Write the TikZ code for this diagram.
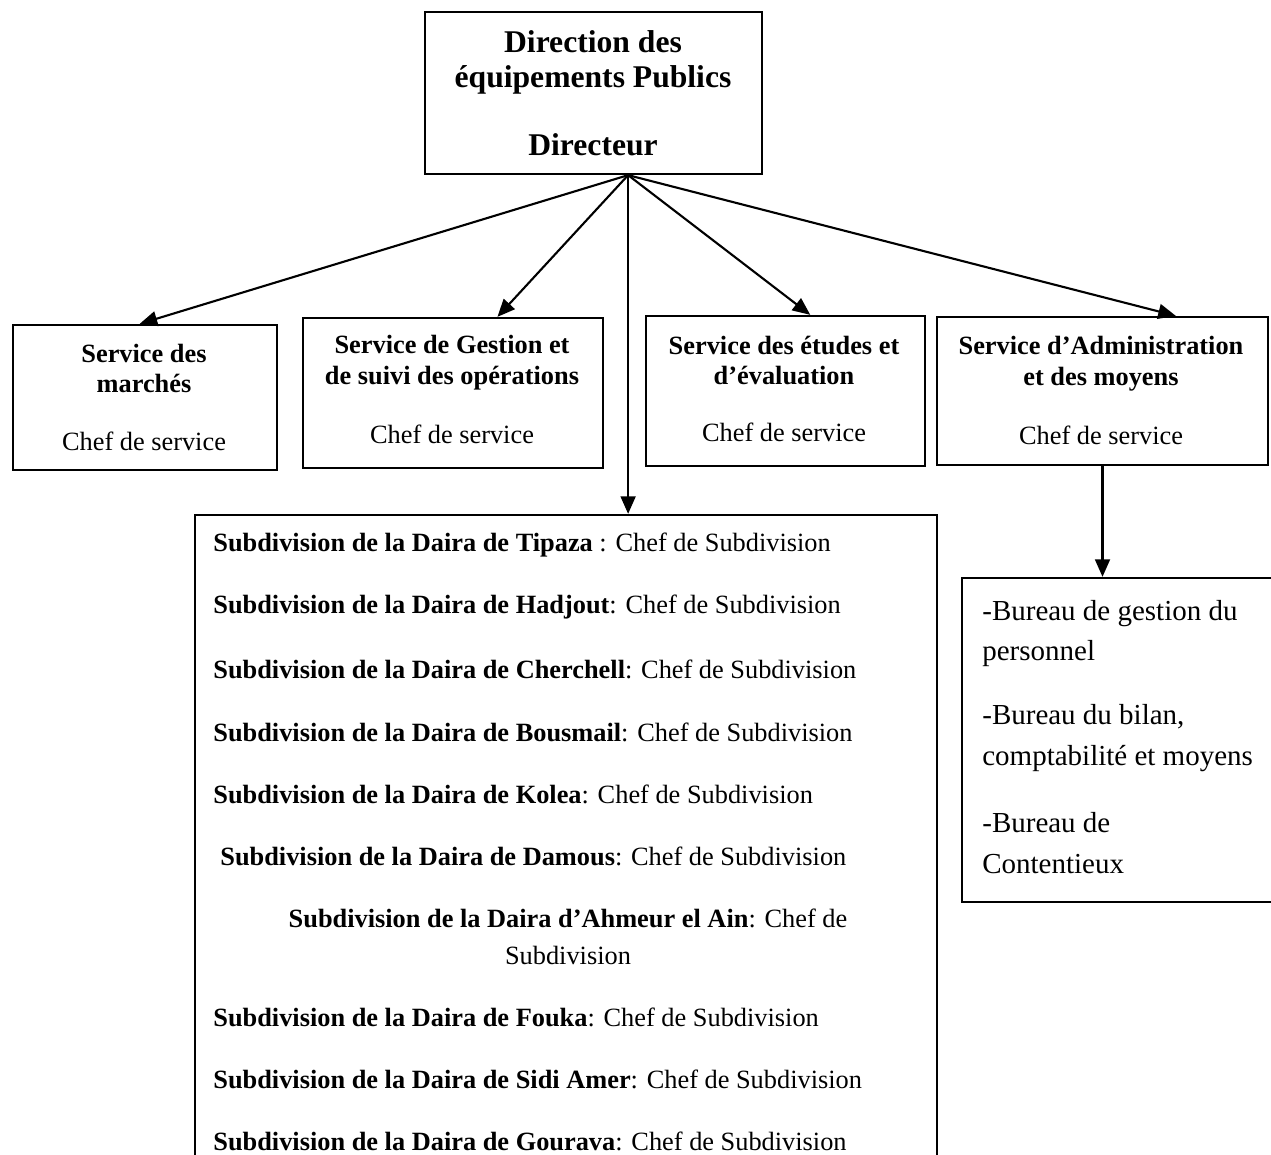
\documentclass[tikz,border=0pt]{standalone}
\usepackage{fontspec}
\setmainfont{Liberation Serif}
\usetikzlibrary{arrows.meta,calc,fit}
\tikzset{
  box/.style={draw, line width=1.3pt, inner sep=0pt},
  lbl/.style={inner sep=0pt, font=\fontsize{15pt}{17.6pt}\selectfont},
  hd/.style={inner sep=0pt, align=center, font=\fontsize{15pt}{17.6pt}\selectfont\bfseries},
  top/.style={inner sep=0pt, align=center, font=\fontsize{18pt}{20pt}\selectfont\bfseries},
  sub/.style={inner sep=0pt, anchor=west, font=\fontsize{15pt}{18pt}\selectfont},
  bur/.style={inner sep=0pt, anchor=west, align=left, font=\fontsize{16.5pt}{23.3pt}\selectfont},
  arr/.style={-{Triangle[length=10pt,width=8.5pt]}, line width=1.2pt}
}
\begin{document}
\begin{tikzpicture}[x=0.02cm, y=-0.02cm]
\fill[white] (0,0) rectangle (1271,1155);
\useasboundingbox (0,0) rectangle (1271,1155);

% top box
\node[box, fit={(425,12) (762,174)}] (dir) {};
\node[top] (dirt) at (593,62) {Direction des\\équipements Publics};
\node[top] (dird) at (593,145) {Directeur};
\coordinate (o) at ($(dir.south west)!0.602!(dir.south east)$);

% service boxes
\node[box, fit={(13,325) (277,470)}] (b1) {};
\node[hd] (h1) at (144,368.5) {Service des\\marchés};
\node[lbl] (c1) at (144,441) {Chef de service};

\node[box, fit={(303,318) (603,468)}] (b2) {};
\node[hd] (h2) at (452,362.5) {Service de Gestion et\\de suivi des opérations};
\node[lbl] (c2) at (452,434) {Chef de service};

\node[box, fit={(646,316) (925,466)}] (b3) {};
\node[hd] (h3) at (784,360.5) {Service des études et\\d’évaluation};
\node[lbl] (c3) at (784,432) {Chef de service};

\node[box, fit={(937,317) (1268,465)}] (b4) {};
\node[hd] (h4) at (1101,363.5) {Service d’Administration\\et des moyens};
\node[lbl] (c4) at (1101,435) {Chef de service};

% subdivisions box
\node[box, fit={(195,515) (937,1175)}] (b5) {};
\node[sub] (s1) at (213,545) {\textbf{Subdivision de la Daira de Tipaza} : Chef de Subdivision};
\node[sub] (s2) at (213,607) {\textbf{Subdivision de la Daira de Hadjout}: Chef de Subdivision};
\node[sub] (s3) at (213,669) {\textbf{Subdivision de la Daira de Cherchell}: Chef de Subdivision};
\node[sub] (s4) at (213,732) {\textbf{Subdivision de la Daira de Bousmail}: Chef de Subdivision};
\node[sub] (s5) at (213,794) {\textbf{Subdivision de la Daira de Kolea}: Chef de Subdivision};
\node[sub] (s6) at (220,856) {\textbf{Subdivision de la Daira de Damous}: Chef de Subdivision};
\node[inner sep=0pt, align=center, font=\fontsize{15pt}{21pt}\selectfont] (s7) at (568,936.5)
  {\textbf{Subdivision de la Daira d’Ahmeur el Ain}: Chef de\\Subdivision};
\node[sub] (s8) at (213,1017) {\textbf{Subdivision de la Daira de Fouka}: Chef de Subdivision};
\node[sub] (s9) at (213,1079) {\textbf{Subdivision de la Daira de Sidi Amer}: Chef de Subdivision};
\node[sub] (s10) at (213,1141) {\textbf{Subdivision de la Daira de Gourava}: Chef de Subdivision};

% bureaux box
\node[box, fit={(962,578) (1285,902)}] (b6) {};
\node[bur] (r1) at (982,633.5) {-Bureau de gestion du\\personnel};
\node[bur] (r2) at (982,738) {-Bureau du bilan,\\comptabilité et moyens};
\node[bur] (r3) at (982,843.5) {-Bureau de\\Contentieux};

% connectors
\draw[arr] (o) -- ($(b1.north west)!0.48!(b1.north east)$);
\draw[arr] (o) -- ($(b2.north west)!0.647!(b2.north east)$);
\draw[arr] (o) -- ($(b3.north west)!0.588!(b3.north east)$);
\draw[arr] (o) -- ($(b4.north west)!0.72!(b4.north east)$);
\draw[arr] (o) -- (o |- b5.north);
\draw[arr] (b4.south) -- (b4.south |- b6.north);
\end{tikzpicture}
\end{document}
